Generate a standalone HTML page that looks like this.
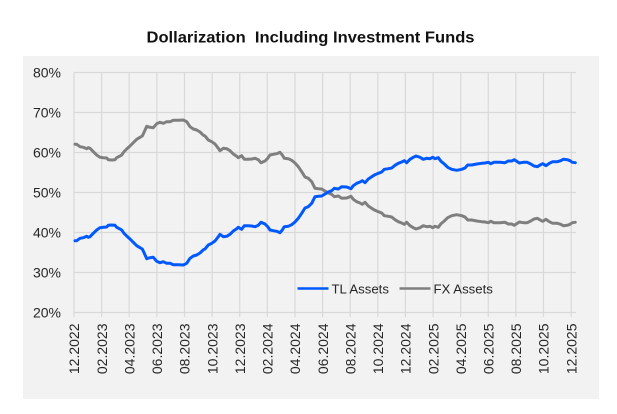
<!DOCTYPE html>
<html>
<head>
<meta charset="utf-8">
<style>
html,body{margin:0;padding:0;background:#fff;}
svg{display:block;}
text{font-family:"Liberation Sans",Arial,sans-serif;}
</style>
</head>
<body>
<svg width="617" height="414" viewBox="0 0 617 414" xmlns="http://www.w3.org/2000/svg">
<rect x="0" y="0" width="617" height="414" fill="#ffffff"/>
<text x="310.5" y="42.7" text-anchor="middle" font-size="15.5" font-weight="bold" fill="#111" textLength="328" lengthAdjust="spacingAndGlyphs" xml:space="preserve" style="white-space:pre">Dollarization  Including Investment Funds</text>
<rect x="23" y="56" width="576" height="343" fill="#F2F2F2"/>
<g stroke="#D9D9D9" stroke-width="1.2" fill="none">
<line x1="74" y1="72.5" x2="576" y2="72.5"/>
<line x1="74" y1="112.5" x2="576" y2="112.5"/>
<line x1="74" y1="152.5" x2="576" y2="152.5"/>
<line x1="74" y1="192.5" x2="576" y2="192.5"/>
<line x1="74" y1="232.5" x2="576" y2="232.5"/>
<line x1="74" y1="272.5" x2="576" y2="272.5"/>
<line x1="74" y1="312.5" x2="576" y2="312.5"/>
<line x1="74.0" y1="72.5" x2="74.0" y2="317"/>
<line x1="101.6" y1="72.5" x2="101.6" y2="317"/>
<line x1="129.2" y1="72.5" x2="129.2" y2="317"/>
<line x1="156.9" y1="72.5" x2="156.9" y2="317"/>
<line x1="184.5" y1="72.5" x2="184.5" y2="317"/>
<line x1="212.1" y1="72.5" x2="212.1" y2="317"/>
<line x1="239.7" y1="72.5" x2="239.7" y2="317"/>
<line x1="267.3" y1="72.5" x2="267.3" y2="317"/>
<line x1="295.0" y1="72.5" x2="295.0" y2="317"/>
<line x1="322.6" y1="72.5" x2="322.6" y2="317"/>
<line x1="350.2" y1="72.5" x2="350.2" y2="317"/>
<line x1="377.8" y1="72.5" x2="377.8" y2="317"/>
<line x1="405.4" y1="72.5" x2="405.4" y2="317"/>
<line x1="433.1" y1="72.5" x2="433.1" y2="317"/>
<line x1="460.7" y1="72.5" x2="460.7" y2="317"/>
<line x1="488.3" y1="72.5" x2="488.3" y2="317"/>
<line x1="515.9" y1="72.5" x2="515.9" y2="317"/>
<line x1="543.5" y1="72.5" x2="543.5" y2="317"/>
<line x1="571.2" y1="72.5" x2="571.2" y2="317"/>
</g>
<g font-size="14" fill="#262626" text-anchor="end">
<text x="61" y="77.5">80%</text>
<text x="61" y="117.5">70%</text>
<text x="61" y="157.5">60%</text>
<text x="61" y="197.5">50%</text>
<text x="61" y="237.5">40%</text>
<text x="61" y="277.5">30%</text>
<text x="61" y="317.5">20%</text>
</g>
<g font-size="14" fill="#262626" text-anchor="end">
<text transform="translate(79.2,323.5) rotate(-90)">12.2022</text>
<text transform="translate(106.8,323.5) rotate(-90)">02.2023</text>
<text transform="translate(134.4,323.5) rotate(-90)">04.2023</text>
<text transform="translate(162.1,323.5) rotate(-90)">06.2023</text>
<text transform="translate(189.7,323.5) rotate(-90)">08.2023</text>
<text transform="translate(217.3,323.5) rotate(-90)">10.2023</text>
<text transform="translate(244.9,323.5) rotate(-90)">12.2023</text>
<text transform="translate(272.5,323.5) rotate(-90)">02.2024</text>
<text transform="translate(300.2,323.5) rotate(-90)">04.2024</text>
<text transform="translate(327.8,323.5) rotate(-90)">06.2024</text>
<text transform="translate(355.4,323.5) rotate(-90)">08.2024</text>
<text transform="translate(383.0,323.5) rotate(-90)">10.2024</text>
<text transform="translate(410.6,323.5) rotate(-90)">12.2024</text>
<text transform="translate(438.3,323.5) rotate(-90)">02.2025</text>
<text transform="translate(465.9,323.5) rotate(-90)">04.2025</text>
<text transform="translate(493.5,323.5) rotate(-90)">06.2025</text>
<text transform="translate(521.1,323.5) rotate(-90)">08.2025</text>
<text transform="translate(548.7,323.5) rotate(-90)">10.2025</text>
<text transform="translate(576.4,323.5) rotate(-90)">12.2025</text>
</g>
<g id="series" fill="none" stroke-width="3" stroke-linejoin="round" stroke-linecap="round">
<polyline id="fx" stroke="#7F7F7F" points=""/>
<polyline id="tl" stroke="#0059FF" points="75,240.7 76.7,240.7 80,238.3 83.3,237.7 86.7,236.3 88.3,237.3 90,236.7 93.3,233.3 96.7,230 100,227.7 103.3,227.3 106.7,227 108.3,225.3 111.7,225 115,225.3 116.7,227.3 120,229 121.7,230 124,233.3 126.7,236 130,239 133.3,242.3 136.7,245.7 140,247.7 142.3,249 144.3,253.3 146.7,258.7 150,257.7 153.3,257.3 156.7,261.3 160,262.7 163.3,261.7 166.7,263.3 170,263.3 173.3,264.7 178.3,264.7 183.3,265 186.7,263.3 190,258.3 193.3,256 196.7,255 200,253 203.3,249.8 205,249 208.3,245 211.7,243.3 215,241 218.3,236.7 220,234.3 223.3,236.7 226.7,236.3 230,234.3 233.3,231 236.7,228.7 238.3,227.3 241.7,229.3 244.3,225.7 248.3,225.7 251.7,226 255,226.7 258.3,225.3 261,222.3 265,224 267.7,226.7 270,230 273.3,230.7 276.7,231.3 280,232.7 282.3,230 284.3,226.7 288.3,226.3 291.7,224.7 295,222 298.3,218.3 301.7,213.3 305,208 308.3,206.7 311.7,203.3 315,196.7 318.3,196.3 321.7,196 325,194 328.3,192 331.7,190.7 334.3,188.3 338.3,189 341.7,186.8 346.7,187 351,188.7 353.3,185.7 356.7,183.3 360,182 362.3,180.7 365,182.7 368.3,179 371.7,176.7 375,174.7 378.3,173.3 381.7,172 384.3,169.3 388.3,168.7 391.7,168 395,165.3 398.3,163.3 401.7,162 404.3,160.7 406.7,162.7 410,159.3 413.3,157.3 416,156 420,157.3 423.3,159.3 426.7,158.3 430,158.7 432.7,157.3 435,158.7 438.3,157.7 441,161.3 444.3,164 447.7,167.3 451.7,169.3 456.7,170.3 461.7,169.3 465,168 467.7,165 471.7,165 476.7,164 481.7,163.3 485,163 488.3,162.3 490.7,163.7 494,162.3 500,162.3 505,162.7 508.3,161 511.7,161 514.3,159.7 516.7,161.3 519.3,163 523.3,162.3 527.3,162.3 530.7,164 534,166 537.3,166.7 540.7,164.7 542.7,163.7 546,165.7 549.3,163.3 552.7,161.7 557.3,161.7 560.7,160.7 563.3,159.3 567.3,159.7 570,160.7 572.3,162.3 575.3,162.7"/>
</g>
<line x1="297.5" y1="288.5" x2="328.5" y2="288.5" stroke="#0059FF" stroke-width="2.6"/>
<text x="331.5" y="293.5" font-size="13.2" fill="#262626">TL Assets</text>
<line x1="399.5" y1="288.5" x2="430.5" y2="288.5" stroke="#7F7F7F" stroke-width="2.6"/>
<text x="433.5" y="293.5" font-size="13.2" fill="#262626">FX Assets</text>
</svg>
<script>
(function(){
var tl=document.getElementById('tl').getAttribute('points').trim().split(/\s+/);
var out=tl.map(function(p){var a=p.split(',');return a[0]+','+(385-parseFloat(a[1])).toFixed(1);});
document.getElementById('fx').setAttribute('points',out.join(' '));
})();
</script>
</body>
</html>
